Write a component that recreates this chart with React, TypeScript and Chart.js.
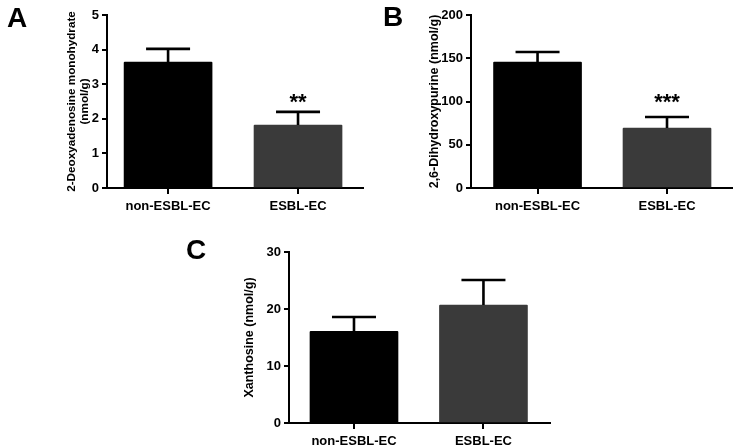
import React, { useEffect, useRef } from "react";
import { Chart, registerables } from "chart.js";
Chart.register(...registerables);

const FONT = "'Liberation Sans', Arial, Helvetica, sans-serif";

// ---- data ----
const categories = ["non-ESBL-EC", "ESBL-EC"];
const barColors = ["#000000", "#3a3a3a"];

const deoxyMeans = [3.64, 1.82];
const deoxySem = [0.38, 0.38];
const deoxyStars = ["", "**"];
const deoxyTitle = ["2-Deoxyadenosine monohydrate", "(nmol/g)"];
const deoxyMax = 5;
const deoxyStep = 1;

const dihydroMeans = [145.7, 69.4];
const dihydroSem = [11.5, 12.7];
const dihydroStars = ["", "***"];
const dihydroTitle = "2,6-Dihydroxypurine (nmol/g)";
const dihydroMax = 200;
const dihydroStep = 50;

const xanthMeans = [16.1, 20.7];
const xanthSem = [2.5, 4.4];
const xanthStars = ["", ""];
const xanthTitle = "Xanthosine (nmol/g)";
const xanthMax = 30;
const xanthStep = 10;

type PanelProps = {
  left: number; top: number; width: number; height: number;
  yWidth: number; xHeight: number; padTop: number; padRight: number;
  xMin: number; xMax: number;
  yMax: number; yStep: number;
  title: string | string[]; titlePad: number; titleSize: number;
  means: number[]; sem: number[]; stars: string[]; starGap: number;
};

function Panel(p: PanelProps) {
  const ref = useRef<HTMLCanvasElement | null>(null);
  useEffect(() => {
    if (!ref.current) return;
    const errorBars = {
      id: "errorBars",
      afterDatasetsDraw(chart: any) {
        const { ctx } = chart;
        const x = chart.scales.x;
        const y = chart.scales.y;
        ctx.save();
        ctx.strokeStyle = "#000";
        ctx.lineWidth = 2.6;
        p.means.forEach((m, i) => {
          const cx = x.getPixelForValue(i);
          const yBar = y.getPixelForValue(m);
          const yTop = y.getPixelForValue(m + p.sem[i]);
          ctx.beginPath();
          ctx.moveTo(cx, yBar);
          ctx.lineTo(cx, yTop);
          ctx.moveTo(cx - 22, yTop);
          ctx.lineTo(cx + 22, yTop);
          ctx.stroke();
          const s = p.stars[i];
          if (s) {
            ctx.fillStyle = "#000";
            ctx.font = `bold 22px ${FONT}`;
            ctx.textAlign = "center";
            ctx.textBaseline = "alphabetic";
            ctx.fillText(s, cx, yTop - p.starGap);
          }
        });
        ctx.restore();
      },
    };
    const tickFont = { family: FONT, size: 13, weight: "bold" as const };
    const chart = new Chart(ref.current, {
      type: "bar",
      data: {
        datasets: [
          {
            data: p.means.map((m, i) => ({ x: i, y: m })),
            backgroundColor: barColors,
            borderWidth: 0,
            borderRadius: 1,
            barThickness: 88,
          },
        ],
      },
      options: {
        responsive: false,
        animation: false,
        layout: { padding: { left: 0, top: p.padTop, right: p.padRight, bottom: 0 } },
        plugins: { legend: { display: false }, tooltip: { enabled: false } },
        scales: {
          x: {
            type: "linear",
            min: p.xMin,
            max: p.xMax,
            offset: false,
            afterBuildTicks: (s: any) => {
              s.ticks = categories.map((_, i) => ({ value: i }));
            },
            afterFit: (s: any) => {
              s.height = p.xHeight;
            },
            ticks: {
              callback: (v: any) => categories[v as number] ?? "",
              font: tickFont,
              color: "#000",
              padding: 5,
              maxRotation: 0,
              autoSkip: false,
            },
            grid: {
              display: true,
              offset: false,
              drawOnChartArea: false,
              drawTicks: true,
              tickLength: 6,
              color: "#000",
              lineWidth: 2,
            },
            border: { display: true, color: "#000", width: 2 },
          },
          y: {
            type: "linear",
            min: 0,
            max: p.yMax,
            afterFit: (s: any) => {
              s.width = p.yWidth;
            },
            ticks: {
              stepSize: p.yStep,
              font: tickFont,
              color: "#000",
              padding: 3,
            },
            grid: {
              display: true,
              drawOnChartArea: false,
              drawTicks: true,
              tickLength: 5,
              color: "#000",
              lineWidth: 2,
            },
            border: { display: true, color: "#000", width: 2 },
            title: {
              display: true,
              text: p.title,
              color: "#000",
              font: { family: FONT, size: p.titleSize, weight: "bold", lineHeight: 1.05 },
              padding: { top: p.titlePad, bottom: 0 },
            },
          },
        },
      },
      plugins: [errorBars],
    } as any);
    return () => chart.destroy();
  }, []);
  return (
    <canvas
      ref={ref}
      width={p.width}
      height={p.height}
      style={{ position: "absolute", left: p.left, top: p.top, width: p.width, height: p.height }}
    />
  );
}

const letterStyle = (left: number, top: number): React.CSSProperties => ({
  position: "absolute",
  left,
  top,
  fontFamily: FONT,
  fontWeight: "bold",
  fontSize: 28,
  lineHeight: "28px",
  color: "#000",
});

export default function App() {
  return (
    <div style={{ position: "absolute", left: 0, top: 0, width: 734, height: 446, background: "#fff", overflow: "hidden" }}>
      <Panel
        left={0} top={0} width={366} height={215}
        yWidth={107} xHeight={27} padTop={15} padRight={3}
        xMin={-0.47} xMax={1.5}
        yMax={deoxyMax} yStep={deoxyStep}
        title={deoxyTitle} titlePad={66} titleSize={11.7}
        means={deoxyMeans} sem={deoxySem} stars={deoxyStars} starGap={3}
      />
      <Panel
        left={370} top={0} width={364} height={215}
        yWidth={101} xHeight={27} padTop={15} padRight={2}
        xMin={-0.514} xMax={1.502}
        yMax={dihydroMax} yStep={dihydroStep}
        title={dihydroTitle} titlePad={58} titleSize={12.5}
        means={dihydroMeans} sem={dihydroSem} stars={dihydroStars} starGap={8}
      />
      <Panel
        left={180} top={230} width={380} height={216}
        yWidth={109} xHeight={23} padTop={22} padRight={10}
        xMin={-0.502} xMax={1.514}
        yMax={xanthMax} yStep={xanthStep}
        title={xanthTitle} titlePad={63} titleSize={12.5}
        means={xanthMeans} sem={xanthSem} stars={xanthStars} starGap={0}
      />
      <div style={letterStyle(7, 4)}>A</div>
      <div style={letterStyle(383, 3)}>B</div>
      <div style={letterStyle(186, 236)}>C</div>
    </div>
  );
}
